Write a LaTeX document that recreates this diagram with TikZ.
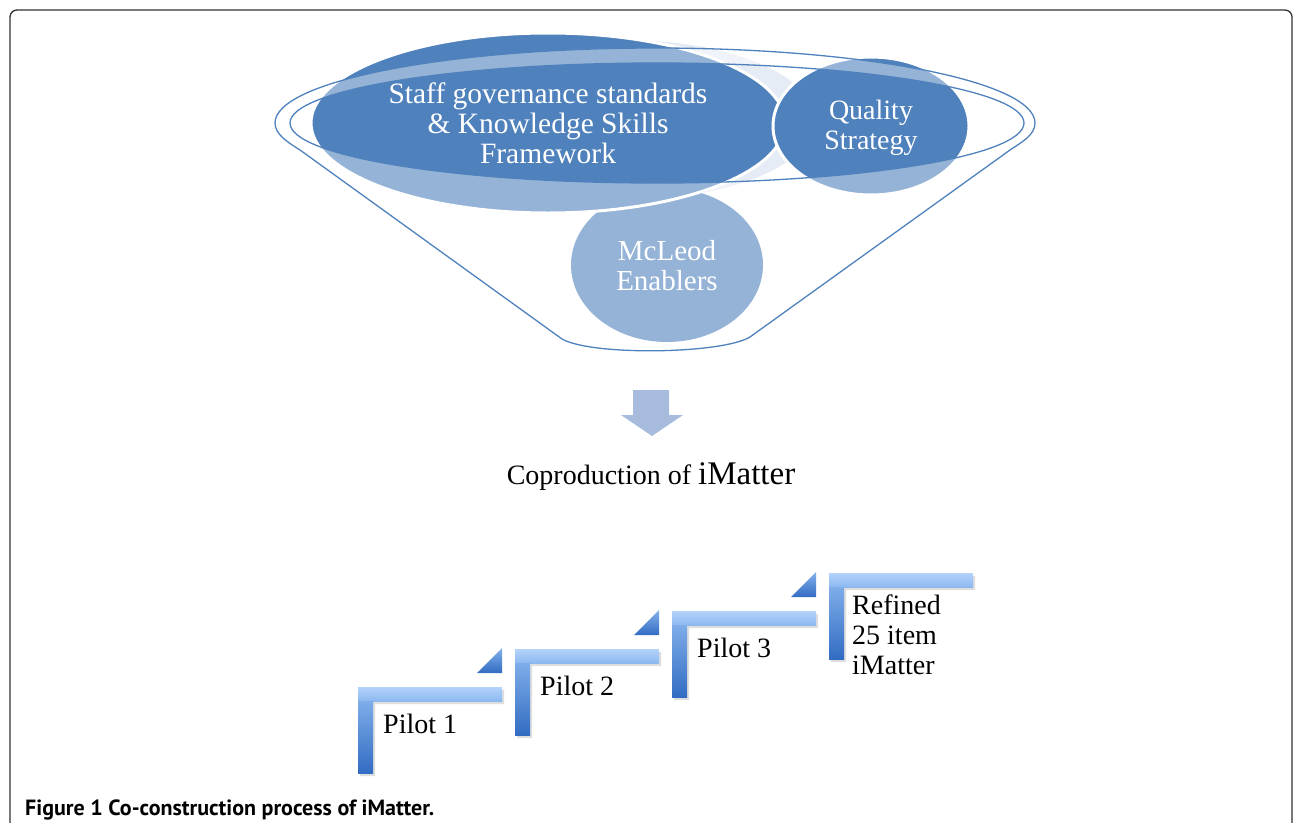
\documentclass[tikz,border=0pt]{standalone}
\usepackage{fontspec}
\setmainfont{Liberation Serif}
\newfontfamily\capfont{PT Sans}
\usepackage{tikz}
\usetikzlibrary{shapes.geometric}

\definecolor{azul}{RGB}{79,129,189}
\definecolor{azulclaro}{RGB}{167,188,221}
\definecolor{fantasma}{RGB}{230,236,245}
\definecolor{escalonA}{RGB}{180,211,250}
\definecolor{escalonB}{RGB}{140,184,240}
\definecolor{escalonC}{RGB}{50,108,194}

\tikzset{
  circulo/.style={ellipse, fill=azul, draw=white, line width=3pt, text=white,
    align=center, inner sep=0pt, font=\fontsize{29}{30}\selectfont},
  embudo/.style={draw=azul, line width=1.3pt},
  etiqueta/.style={font=\fontsize{28}{30}\selectfont, inner sep=0pt},
}

\begin{document}
\begin{tikzpicture}[x=1pt,y=-1pt]
\useasboundingbox (0,0) rectangle (1293,822);

%marco de la figura
\draw [line width=1.3pt,black!80,rounded corners=7pt] (10,840) -- (10,10) -- (1292,10) -- (1292,840);

%sombra clara entre los circulos
\fill [fantasma] (625,120) ellipse [x radius=190, y radius=80];

%los tres circulos del embudo
\node [circulo, fill=azul, draw=none, minimum width=192, minimum height=154] (mcleod) at (667,265) {};
\node [circulo, minimum width=474, minimum height=180] (staff) at (548,123) {};
\node [circulo, minimum width=196, minimum height=138] (quality) at (871,126) {};

%cuerpo del embudo, blanco transparente
\fill [white,fill opacity=0.4,even odd rule]
  (275,123) arc [start angle=180, end angle=360, x radius=380, y radius=75]
  .. controls (1035,135) and (1022,142) .. (1010,150) -- (750,337)
  .. controls (722,354) and (592,356) .. (562,339) -- (300,150)
  .. controls (287,142) and (275,134) .. (275,123) -- cycle
  (657,123) ellipse [x radius=367, y radius=60];

%contorno del embudo
\draw [embudo]
  (275,123) arc [start angle=180, end angle=360, x radius=380, y radius=75]
  .. controls (1035,135) and (1022,142) .. (1010,150) -- (750,337)
  .. controls (722,354) and (592,356) .. (562,339) -- (300,150)
  .. controls (287,142) and (275,134) .. (275,123) -- cycle;
\draw [embudo] (657,123) ellipse [x radius=367, y radius=60];

%textos de los circulos
\node [text=white, align=center, font=\fontsize{29.5}{30}\selectfont] (staffT) at (staff.center) {Staff governance standards\\\& Knowledge Skills\\Framework};
\node [text=white, align=center, font=\fontsize{28}{30}\selectfont] (qualityT) at (871,128) {Quality\\Strategy};
\node [text=white, align=center, font=\fontsize{29}{30}\selectfont] (mcleodT) at (667,266) {McLeod\\Enablers};

%flecha hacia abajo
\fill [azulclaro] (633,390) -- (669,390) -- (669,415) -- (683,415) -- (652,436) -- (621,415) -- (633,415) -- cycle;

%titulo central
\node [inner sep=0pt] (coprod) at (651,477) {\fontsize{28}{30}\selectfont Coproduction of \fontsize{33}{30}\selectfont iMatter};

%escalones con sombra y degradado
\foreach \k in {0,1,2,3}{
	\fill [black,opacity=0.13] ({360+157*\k},{690-38*\k}) -- ++(144,0) -- ++(0,14) -- ++(-129,0) -- ++(0,72) -- ++(-15,0) -- cycle;
	\shade [top color=escalonA, bottom color=escalonB] ({358+157*\k},{687-38*\k}) rectangle ++(144,14);
	\shade [top color=escalonB!85!escalonC, bottom color=escalonC] ({358+157*\k},{701-38*\k}) rectangle ++(15,72);
}
%triangulos sobre los escalones
\foreach \k in {0,1,2}
	\shade [top color=escalonB!90!escalonC, bottom color=escalonC] ({502+157*\k},{673-38*\k}) -- ++(0,-25) -- ++(-25,25) -- cycle;

%etiquetas de los pilotos
\foreach \k/\n in {0/1,1/2,2/3}
	\node [etiqueta, anchor=base west] (pilot\n) at ({383+157*\k},{733-38*\k}) {Pilot \n};
\node [etiqueta, anchor=north west, align=left] (refinado) at (852,595) {Refined\\25 item\\iMatter};

%pie de figura
\node [anchor=base west, inner sep=0pt, font=\capfont\fontsize{22}{24}\selectfont\bfseries] (pie) at (25,815) {Figure 1 Co-construction process of iMatter.};
\end{tikzpicture}
\end{document}
